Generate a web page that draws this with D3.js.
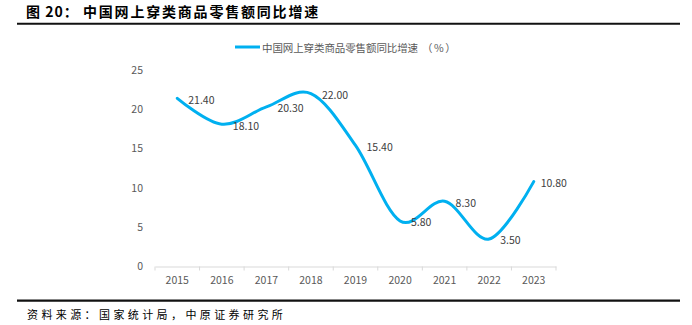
<!DOCTYPE html>
<html>
<head>
<meta charset="utf-8">
<script src="https://cdn.jsdelivr.net/npm/d3@7/dist/d3.min.js"></script>
<style>
    html, body { margin: 0; padding: 0; background: #fff; }
    svg { display: block; font-family: "Noto Sans CJK SC", "Noto Sans", sans-serif; }
</style>
</head>
<body>
<div id="chart"></div>
<script>
"use strict";

// 年份与同比增速（%）
const years = ["2015", "2016", "2017", "2018", "2019", "2020", "2021", "2022", "2023"];
const growth = [21.4, 18.1, 20.3, 22.0, 15.4, 5.8, 8.3, 3.5, 10.8];
const yTicks = [0, 5, 10, 15, 20, 25];

const titleNo = "图 20：";
const titleText = "中国网上穿类商品零售额同比增速";
const seriesName = "中国网上穿类商品零售额同比增速";
const seriesUnit = "（%）";
const sourceText = "资料来源：国家统计局，中原证券研究所";

const width = 692,
    height = 325;

const line_color = "#00b0f0",
    text_color = "#595959",
    axis_color = "#d9d9d9";

let svg = d3.select("#chart")
    .append("svg")
    .attr("width", width)
    .attr("height", height);

// 标题与上下分隔线
let title = svg.append("text")
    .attr("y", 11)
    .attr("dominant-baseline", "central")
    .style("font-size", "14px")
    .style("font-weight", "bold")
    .attr("fill", "#000");
title.append("tspan")
    .attr("x", 26)
    .style("letter-spacing", "1px")
    .text(titleNo);
title.append("tspan")
    .attr("x", 83)
    .style("letter-spacing", "1.8px")
    .text(titleText);

svg.append("line")
    .attr("x1", 17).attr("x2", 680)
    .attr("y1", 23.7).attr("y2", 23.7)
    .attr("stroke", "#111")
    .attr("stroke-width", 2);

svg.append("line")
    .attr("x1", 17).attr("x2", 680)
    .attr("y1", 300.7).attr("y2", 300.7)
    .attr("stroke", "#111")
    .attr("stroke-width", 2.2);

svg.append("text")
    .attr("x", 27)
    .attr("y", 314)
    .attr("dominant-baseline", "central")
    .style("font-size", "11px")
    .style("letter-spacing", "3.4px")
    .attr("fill", "#000")
    .text(sourceText);

// 坐标比例尺
let x = d3.scaleBand().domain(years).range([155, 556]).padding(0);
let y = d3.scaleLinear().domain([0, 25]).range([266.5, 70]);

// 纵轴标签
let yAxis = svg.append("g")
    .attr("transform", "translate(155,0)")
    .call(d3.axisLeft(y).tickValues(yTicks).tickSize(0).tickPadding(12));
yAxis.select(".domain").remove();
yAxis.selectAll("text")
    .style("font-family", "\"Noto Sans CJK SC\", sans-serif")
    .style("font-size", "10.5px")
    .attr("fill", text_color);

// 横轴
let xAxis = svg.append("g")
    .attr("transform", "translate(0," + y(0) + ")")
    .call(d3.axisBottom(x).tickSize(0).tickPadding(10));
xAxis.select(".domain")
    .attr("stroke", axis_color);
xAxis.selectAll("text")
    .style("font-family", "\"Noto Sans CJK SC\", sans-serif")
    .style("font-size", "10.5px")
    .attr("fill", text_color);

// 类别分隔刻度
let bounds = years.map(d => x(d)).concat([x.range()[1]]);
svg.append("g")
    .selectAll("line")
    .data(bounds)
    .enter()
    .append("line")
    .attr("x1", d => d).attr("x2", d => d)
    .attr("y1", y(0)).attr("y2", y(0) + 4)
    .attr("stroke", axis_color);

// 平滑折线
let points = years.map((d, i) => [x(d) + x.bandwidth() / 2, y(growth[i])]);
let line = d3.line().curve(d3.curveCardinal.tension(0));

svg.append("path")
    .attr("d", line(points))
    .attr("fill", "none")
    .attr("stroke", line_color)
    .attr("stroke-width", 3)
    .attr("stroke-linecap", "round");

// 数据标签
svg.append("g")
    .selectAll("text")
    .data(growth)
    .enter()
    .append("text")
    .attr("x", (d, i) => points[i][0] + (i === growth.length - 1 ? 7 : 11))
    .attr("y", (d, i) => points[i][1] + 1)
    .attr("dominant-baseline", "central")
    .style("font-size", "10.5px")
    .attr("fill", "#404040")
    .text(d => d.toFixed(2));

// 图例
svg.append("line")
    .attr("x1", 235).attr("x2", 260)
    .attr("y1", 47).attr("y2", 47)
    .attr("stroke", line_color)
    .attr("stroke-width", 3);

let legend = svg.append("text")
    .attr("x", 262)
    .attr("y", 47)
    .attr("dominant-baseline", "central")
    .style("font-size", "10.5px")
    .attr("fill", text_color);
legend.append("tspan")
    .style("letter-spacing", "-0.1px")
    .text(seriesName);
legend.append("tspan")
    .attr("dx", 4)
    .style("letter-spacing", "1.5px")
    .text(seriesUnit);
</script>
</body>
</html>
